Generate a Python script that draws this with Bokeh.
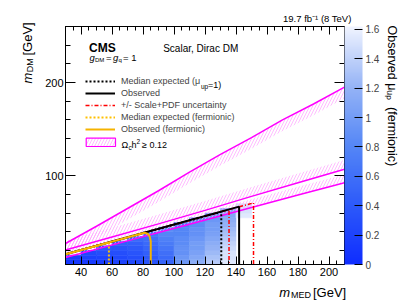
import numpy as np
from math import pi
from bokeh.plotting import figure
from bokeh.models import (Range1d, LinearAxis, SingleIntervalTicker, FixedTicker, CustomJSTickFormatter,
                          LinearColorMapper, ColorBar, Label, Legend, LegendItem, ColumnDataSource,
                          BoxAnnotation)
from bokeh.transform import transform
from bokeh.embed import file_html
from bokeh.resources import INLINE

# ---------------- data ----------------
# heat map of observed mu_up (fermionic): columns in m_MED, rows of 5 GeV in m_DM
med_edges = [30, 40, 50, 60, 70, 80, 90, 100, 110, 120, 130, 140, 150]
dm_step = 5
col_bottom = [5, 5, 5, 5, 5, 5, 5, 5, 5, 5, 5, 55]
mu_up = [
    [0.10, 0.15],
    [0.12, 0.18, 0.25],
    [0.15, 0.20, 0.30, 0.40],
    [0.20, 0.25, 0.30, 0.35, 0.45],
    [0.25, 0.30, 0.35, 0.40, 0.45, 0.55],
    [0.35, 0.40, 0.45, 0.50, 0.55, 0.60, 0.65],
    [0.50, 0.55, 0.60, 0.65, 0.70, 0.75, 0.80, 0.85],
    [0.95, 0.95, 0.90, 0.90, 0.85, 0.85, 0.80, 0.80, 0.75],
    [1.15, 1.10, 1.05, 1.00, 1.00, 0.95, 0.90, 0.90, 0.85, 0.85],
    [1.35, 1.30, 1.25, 1.20, 1.15, 1.10, 1.05, 1.00, 1.00, 0.95, 0.95],
    [1.55, 1.50, 1.50, 1.45, 1.40, 1.35, 1.30, 1.25, 1.20, 1.15, 1.10, 1.10],
    [1.55, 1.50, 1.50],
]
cb_ticks = [0, 0.2, 0.4, 0.6, 0.8, 1.0, 1.2, 1.4, 1.6]

# exclusion contours (m_MED, m_DM) in GeV
obs_med = [30, 142, 142]
obs_dm = [16, 67, 5]
exp_med = [30, 130.5, 130.5]
exp_dm = [16, 61.5, 5]
unc_lo_med = [30, 135.5, 135.5]
unc_lo_dm = [16, 63.8, 5]
unc_hi_med = [30, 151.3, 151.3]
unc_hi_dm = [16, 71, 5]
fobs_med = [30, 81, 83, 84.3, 85, 85]
fobs_dm = [16, 39, 38, 35, 30, 5]
fexp_med = [30, 57.5, 58, 58]
fexp_dm = [16, 28.3, 27, 5]

# relic density contours Omega_c h^2 = 0.12
relic_a_med = [30, 50, 70, 90, 110, 130, 150, 170, 190, 210]
relic_a_dm = [27.5, 46, 65, 84, 104, 123, 141, 160, 177, 195]
relic_b_med = [30, 60, 90, 120, 150, 180, 210]
relic_b_dm = [20.5, 34.5, 48.5, 63, 78, 92.5, 107]
relic_c_med = [30, 70, 110, 150, 180, 210]
relic_c_dm = [12.5, 30.3, 48.2, 66, 79.4, 92.5]

# ---------------- styling ----------------
FONT = "Liberation Sans"
W, H = 407, 300
X0, X1, Y0, Y1 = 30, 210, 5, 260
FL, FR, FT, FB = 65, 346, 26, 264   # frame edges in canvas pixels

anchors_v = [0, 0.4, 0.8, 1.2, 1.6]
anchors_c = [(15, 45, 255), (45, 90, 250), (85, 135, 246), (150, 180, 246), (240, 244, 255)]
palette = []
for t in np.linspace(0, 1.6, 256):
    r, g, b = (int(round(np.interp(t, anchors_v, [c[i] for c in anchors_c]))) for i in range(3))
    palette.append("#%02x%02x%02x" % (r, g, b))
mapper = LinearColorMapper(palette=palette, low=0, high=1.62)

p = figure(width=W, height=H, x_range=Range1d(X0, X1), y_range=Range1d(Y0, Y1),
           x_axis_type=None, y_axis_type=None, output_backend="svg", toolbar_location=None,
           min_border_left=FL, min_border_right=W - FR, min_border_top=FT,
           min_border_bottom=H - FB, outline_line_color="black",
           background_fill_color="white", border_fill_color="white")

blank = CustomJSTickFormatter(code="return ''")
common = dict(axis_line_color="black", major_tick_line_color="black", minor_tick_line_color="black",
              major_tick_out=0, minor_tick_out=0, major_label_text_font=FONT,
              major_label_text_font_size="11px", major_label_text_color="black")
xb = LinearAxis(ticker=SingleIntervalTicker(interval=20, num_minor_ticks=4), major_tick_in=8,
                minor_tick_in=4, major_label_standoff=3, **common)
xt = LinearAxis(ticker=SingleIntervalTicker(interval=20, num_minor_ticks=4), major_tick_in=8,
                minor_tick_in=4, major_label_standoff=0, formatter=blank, **common)
yl = LinearAxis(ticker=SingleIntervalTicker(interval=100, num_minor_ticks=5), major_tick_in=10,
                minor_tick_in=5, major_label_standoff=2, **common)
yr = LinearAxis(ticker=SingleIntervalTicker(interval=100, num_minor_ticks=5), major_tick_in=10,
                minor_tick_in=5, major_label_standoff=0, formatter=blank, **common)
xt.major_label_text_font_size = "0px"
yr.major_label_text_font_size = "0px"
xt.axis_label_standoff = 0
yr.axis_label_standoff = 0
p.add_layout(xb, "below")
p.add_layout(xt, "above")
p.add_layout(yl, "left")
p.add_layout(yr, "right")

# heat map cells
L, R, B, T, V = [], [], [], [], []
for i, vals in enumerate(mu_up):
    for k, v in enumerate(vals):
        L.append(med_edges[i]); R.append(med_edges[i + 1])
        B.append(col_bottom[i] + k * dm_step); T.append(col_bottom[i] + (k + 1) * dm_step)
        V.append(v)
src = ColumnDataSource(dict(left=L, right=R, bottom=B, top=T, val=V))
p.quad(left="left", right="right", bottom="bottom", top="top", source=src,
       fill_color=transform("val", mapper), line_color=transform("val", mapper), line_width=0.6)

# relic density hatched bands
HATCH = dict(hatch_pattern="/", hatch_color="#ffa0ff", hatch_scale=6, hatch_weight=0.7)


def band(xs, ys, off):
    return xs + xs[::-1], ys + [y + off for y in ys[::-1]]


for xs_, ys_, off in [(relic_a_med, relic_a_dm, -12), (relic_b_med, relic_b_dm, 10),
                      (relic_c_med, relic_c_dm, 9)]:
    bx, by = band(xs_, ys_, off)
    p.patch(bx, by, fill_color=None, line_color=None, **HATCH)
PINK = dict(line_color="#ff00ff", line_width=1.5)
p.line(relic_a_med, relic_a_dm, **PINK)
p.line(relic_b_med, relic_b_dm, **PINK)
p.line(relic_c_med, relic_c_dm, **PINK)

# limits
r_unc = p.line(unc_lo_med, unc_lo_dm, line_color="#ff0000", line_width=1.5, line_dash="4 2 1 2")
p.line(unc_hi_med, unc_hi_dm, line_color="#ff0000", line_width=1.5, line_dash="4 2 1 2")
r_exp = p.line(exp_med, exp_dm, line_color="black", line_width=2, line_dash="2 2")
r_obs = p.line(obs_med, obs_dm, line_color="black", line_width=2)
r_fexp = p.line(fexp_med, fexp_dm, line_color="#ffc000", line_width=2, line_dash="2 2")
r_fobs = p.line(fobs_med, fobs_dm, line_color="#f5b300", line_width=2)

legend = Legend(items=[
    LegendItem(label="Median expected (\u03bc", renderers=[r_exp]),
    LegendItem(label="Observed", renderers=[r_obs]),
    LegendItem(label="+/- Scale+PDF uncertainty", renderers=[r_unc]),
    LegendItem(label="Median expected (fermionic)", renderers=[r_fexp]),
    LegendItem(label="Observed (fermionic)", renderers=[r_fobs]),
], location=(20, FB - 135), padding=0, margin=0, spacing=0, glyph_width=30, glyph_height=12,
    label_height=12, label_standoff=6, label_text_font=FONT, label_text_font_size="9px",
    border_line_color=None, background_fill_alpha=0)
p.add_layout(legend, "center")

# hatched legend sample for the relic-density entry
p.add_layout(BoxAnnotation(left=85.7 - FL, right=115 - FL, bottom=FB - 146, top=FB - 137.7,
                           left_units="screen", right_units="screen", bottom_units="screen",
                           top_units="screen", fill_color=None, line_color="#ff00ff",
                           line_width=1.2, line_alpha=1, **HATCH))

cb = ColorBar(color_mapper=mapper, ticker=FixedTicker(ticks=cb_ticks),
              formatter=CustomJSTickFormatter(code="return (Math.round(tick*10)/10).toString()"),
              width=18, padding=0, margin=0, label_standoff=3, major_tick_in=8, major_tick_out=0,
              major_tick_line_color="black", minor_tick_line_color=None, bar_line_color=None,
              border_line_color=None, background_fill_color=None,
              major_label_text_font=FONT, major_label_text_font_size="10px")
p.add_layout(cb, "right")


def lab(text, px, py, size, style="normal", angle=0, align="left"):
    # text inside the frame, positioned in frame pixels
    p.add_layout(Label(x=px - FL, y=FB - py, x_units="screen", y_units="screen", text=text,
                       text_font=FONT, text_font_size=f"{size}px", text_font_style=style,
                       angle=angle, text_align=align, text_baseline="alphabetic",
                       text_color="black"))


def olab(text, px, py, size, side, style="normal", angle=0, align="left"):
    # text outside the frame, positioned in canvas pixels, held in a side panel with room to spare
    p.add_layout(Label(x=px, y=py, x_units="canvas", y_units="canvas", text=text,
                       text_font=FONT, text_font_size=f"{size}px", text_font_style=style,
                       angle=angle, text_align=align, text_baseline="alphabetic",
                       text_color="black"), side)


# titles
lab("CMS", 88.5, 47.5, 12, "bold")
lab("Scalar, Dirac DM", 162.7, 47.5, 10)
lab("g", 89, 57, 9.5, "italic")
lab("DM", 94.5, 59.5, 6)
lab("=", 105.5, 57, 9.5)
lab("g", 112.5, 57, 9.5, "italic")
lab("q", 118, 59.5, 6)
lab("= 1", 122.5, 57, 9.5)

# legend text pieces with sub/superscripts
lab("up", 200.5, 86, 6.5)
lab("=1)", 207.5, 84, 9)
lab("\u03a9", 121, 144.8, 9)
lab("c", 128, 146.8, 6.5)
lab("h", 131, 144.8, 9)
lab("2", 136, 141, 6.5)
lab("\u2265 0.12", 141.5, 144.8, 9)

# outside texts (each side panel is given only what fits in its border)
olab("19.7 fb\u207b\u00b9 (8 TeV)", 351, 18, 9.5, "above", align="right")
olab("MED", 310.5, 294.5, 9, "above", align="right")
olab("[GeV]", 345.7, 292, 13, "below", align="right")
olab("m", 289.5, 292, 13, "right", "italic", align="right")
olab("m", 27, 83, 13, "left", "italic", angle=pi / 2)
olab("DM", 29.5, 71.8, 9, "left", angle=pi / 2)
olab("[GeV]", 27, 55, 13, "left", angle=pi / 2)
olab("Observed \u03bc\u1d64\u209a\u00a0 (fermionic)", 391, 25, 12.5, "right", angle=-pi / 2)

open("out.html", "w").write(file_html(p, INLINE))
